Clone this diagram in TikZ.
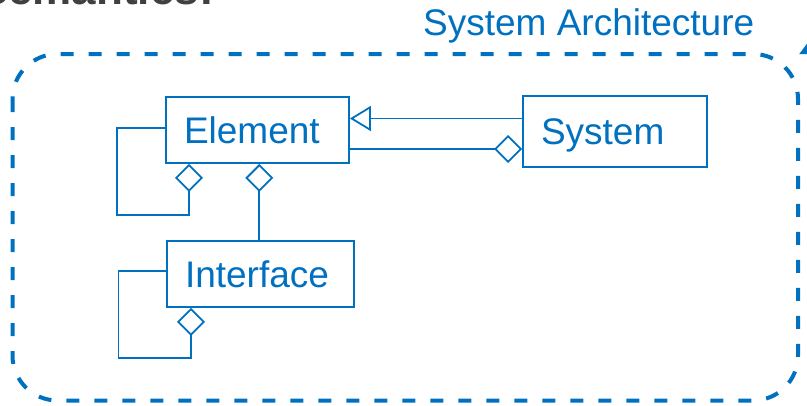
\documentclass[tikz,border=0pt]{standalone}
\usepackage{fontspec}
\setmainfont{Liberation Sans}
\usetikzlibrary{arrows.meta,calc}
\definecolor{archblue}{HTML}{0070C0}
\definecolor{headgray}{HTML}{404040}
\begin{document}
\begin{tikzpicture}[x=1pt,y=-1pt,
  cls/.style={draw=archblue, line width=1.8pt, fill=white, text=archblue,
    font=\fontsize{37}{44}\selectfont, align=left, inner xsep=18pt, inner ysep=0pt,
    text height=26.5pt, text depth=0pt},
  link/.style={draw=archblue, line width=1.8pt},
  aggr/.style={link, -{Diamond[open, length=28pt, width=28pt, fill=white]}},
  gen/.style={link, -{Triangle[open, length=21pt, width=25pt, fill=white]}},
  archframe/.style={draw=archblue, line width=4pt, dash pattern=on 13pt off 15pt,
    rounded corners=45pt},
  heading/.style={text=headgray, font=\bfseries\fontsize{44}{52}\selectfont, inner sep=0pt},
  caption/.style={text=archblue, font=\fontsize{37}{44}\selectfont, inner sep=0pt}
]
\useasboundingbox (0,0) rectangle (807,405);

% heading of the slide, mostly above the page
\node[heading, anchor=base east] (head) at (214,4.5) {Semantics:};

% tip of an incoming arrow at the upper right corner
\fill[archblue] (799.3,54) -- (809,41) -- (809,54) -- cycle;

% dashed package frame and its caption
\draw[archframe] (12.5,54) rectangle (798,400.5);
\node[caption, anchor=base west] (cap) at (423,35) {System Architecture};

% classes
\node[cls, minimum width=183pt, minimum height=66pt, text width=147pt] (Element) at (257.5,130) {Element};
\node[cls, minimum width=184pt, minimum height=71pt, text width=148pt] (System) at (615,131.5) {System};
\node[cls, minimum width=187pt, minimum height=66pt, text width=151pt] (Interface) at (260.5,274) {Interface};

% System is an Element and aggregates Elements
\draw[gen] ($(System.west)+(0,-13)$) -- ($(Element.east)+(0,-11.5)$);
\draw[aggr] ($(Element.east)+(0,19)$) -- ($(System.west)+(0,17.5)$);

% Element aggregates Elements and Interfaces
\draw[aggr] ($(Element.west)+(0,-2)$) -| ($(Element.west)+(-48,85)$) -| ($(Element.south)+(-68.5,0)$);
\draw[aggr] ($(Interface.north)+(-1.2,0)$) -- ($(Element.south)+(1.8,0)$);

% Interface aggregates Interfaces
\draw[aggr] ($(Interface.west)+(0,-3.3)$) -| ($(Interface.west)+(-47.7,83.7)$) -| ($(Interface.south)+(-69.5,0)$);
\end{tikzpicture}
\end{document}
